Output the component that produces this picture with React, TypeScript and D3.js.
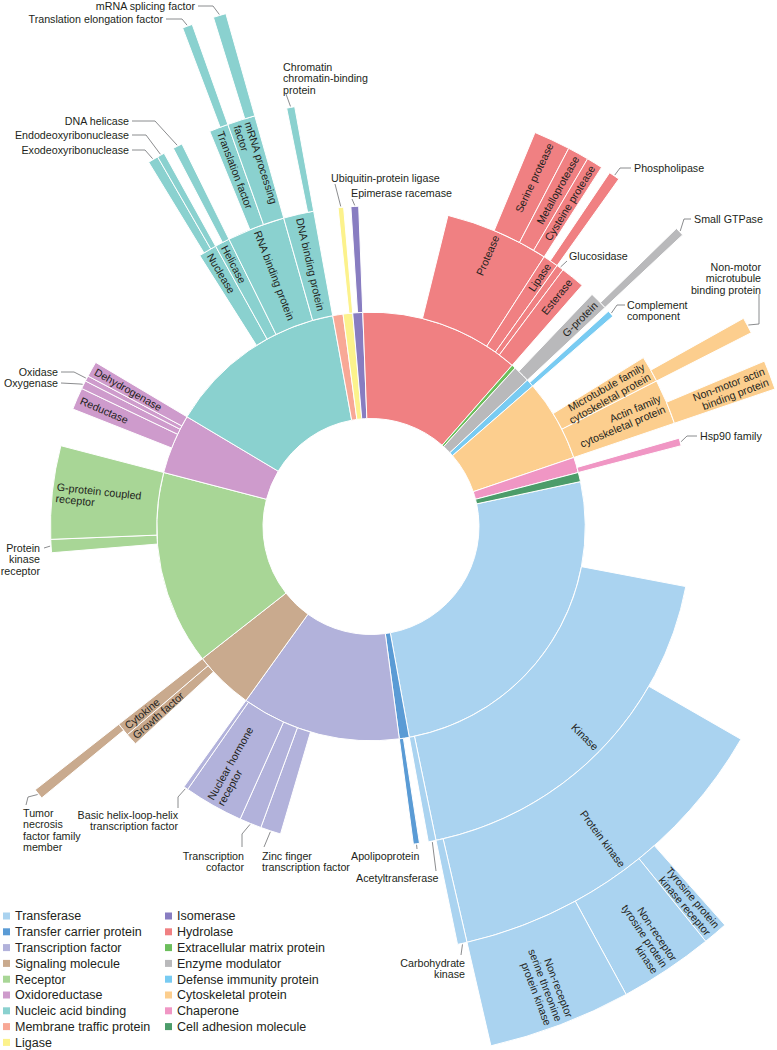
import React from "react";
import * as d3 from "d3";

// protein classes, clockwise from Transferase
const classNames = [
  "Transferase", "Transfer carrier protein", "Transcription factor", "Signaling molecule",
  "Receptor", "Oxidoreductase", "Nucleic acid binding", "Membrane traffic protein", "Ligase",
  "Isomerase", "Hydrolase", "Extracellular matrix protein", "Enzyme modulator",
  "Defense immunity protein", "Cytoskeletal protein", "Chaperone", "Cell adhesion molecule",
];
const classCounts = [918, 27, 433, 162, 527, 162, 489, 28, 26, 27, 434, 11, 46, 21, 222, 42, 25];
const classColors = [
  "#aad3f0", "#5a9bd5", "#b2b2db", "#c9aa8e", "#a8d696", "#ce9bcc", "#8ad1cf", "#f8a896", "#fcf28c",
  "#887dc1", "#f08082", "#6cbe5c", "#b9b9bb", "#78cbf2", "#fcce8e", "#f096c4", "#4c9c6a",
];

// second level
const level2Names = [
  "Kinase", "Acetyltransferase", "Apolipoprotein",
  "Zinc finger transcription factor", "Transcription cofactor", "Nuclear hormone receptor",
  "Basic helix-loop-helix transcription factor", "Growth factor", "Cytokine",
  "Protein kinase receptor", "G-protein coupled receptor",
  "Reductase", "Oxygenase", "Oxidase", "Dehydrogenase",
  "Nuclease", "Helicase", "RNA binding protein", "DNA binding protein",
  "Ubiquitin-protein ligase", "Epimerase racemase",
  "Protease", "Lipase", "Glucosidase", "Esterase", "G-protein", "Complement component",
  "Microtubule family cytoskeletal protein", "Actin family cytoskeletal protein", "Hsp90 family",
];
const level2Parents = [
  "Transferase", "Transferase", "Transfer carrier protein",
  "Transcription factor", "Transcription factor", "Transcription factor",
  "Transcription factor", "Signaling molecule", "Signaling molecule",
  "Receptor", "Receptor",
  "Oxidoreductase", "Oxidoreductase", "Oxidoreductase", "Oxidoreductase",
  "Nucleic acid binding", "Nucleic acid binding", "Nucleic acid binding", "Nucleic acid binding",
  "Ligase", "Isomerase",
  "Hydrolase", "Hydrolase", "Hydrolase", "Hydrolase", "Enzyme modulator", "Defense immunity protein",
  "Cytoskeletal protein", "Cytoskeletal protein", "Chaperone",
];
const level2Counts = [
  675, 14, 11,
  37, 40, 108, 8, 22, 24,
  24, 169,
  40, 15, 10, 28,
  33, 27, 105, 55,
  10, 14,
  188, 28, 13, 44, 33, 12,
  48, 82, 14,
];

// third level
const level3Names = [
  "Protein kinase", "Carbohydrate kinase", "Tumor necrosis factor family member",
  "Exodeoxyribonuclease", "Endodeoxyribonuclease", "DNA helicase",
  "Translation factor", "mRNA processing factor", "Chromatin chromatin-binding protein",
  "Serine protease", "Metalloprotease", "Cysteine protease", "Phospholipase", "Small GTPase",
  "Non-motor microtubule binding protein", "Non-motor actin binding protein",
];
const level3Parents = [
  "Kinase", "Kinase", "Cytokine",
  "Nuclease", "Nuclease", "Helicase",
  "RNA binding protein", "RNA binding protein", "DNA binding protein",
  "Protease", "Protease", "Protease", "Lipase", "G-protein",
  "Microtubule family cytoskeletal protein", "Actin family cytoskeletal protein",
];
const level3Counts = [471, 13, 14, 14, 10, 13, 26, 38, 11, 50, 29, 22, 15, 12, 22, 40];

// fourth level
const level4Names = [
  "Tyrosine protein kinase receptor", "Non-receptor tyrosine protein kinase",
  "Non-receptor serine threonine protein kinase",
  "Translation elongation factor", "mRNA splicing factor",
];
const level4Parents = [
  "Protein kinase", "Protein kinase", "Protein kinase",
  "Translation factor", "mRNA processing factor",
];
const level4Counts = [27, 103, 156, 11, 14];

// labels drawn inside their segment ("|" breaks a line)
const insideLabels: [string, string][] = [
  ["Kinase", "Kinase"],
  ["Protein kinase", "Protein kinase"],
  ["Tyrosine protein kinase receptor", "Tyrosine protein|kinase receptor"],
  ["Non-receptor tyrosine protein kinase", "Non-receptor|tyrosine protein|kinase"],
  ["Non-receptor serine threonine protein kinase", "Non-receptor|serine threonine|protein kinase"],
  ["Protease", "Protease"],
  ["Serine protease", "Serine protease"],
  ["Metalloprotease", "Metalloprotease"],
  ["Cysteine protease", "Cysteine protease"],
  ["Lipase", "Lipase"],
  ["Esterase", "Esterase"],
  ["G-protein", "G-protein"],
  ["Microtubule family cytoskeletal protein", "Microtubule family|cytoskeletal protein"],
  ["Actin family cytoskeletal protein", "Actin family|cytoskeletal protein"],
  ["Non-motor actin binding protein", "Non-motor actin|binding protein"],
  ["Nuclear hormone receptor", "Nuclear hormone|receptor"],
  ["Cytokine", "Cytokine"],
  ["Growth factor", "Growth factor"],
  ["G-protein coupled receptor", "G-protein coupled|receptor"],
  ["Reductase", "Reductase"],
  ["Dehydrogenase", "Dehydrogenase"],
  ["Nuclease", "Nuclease"],
  ["Helicase", "Helicase"],
  ["RNA binding protein", "RNA binding protein"],
  ["DNA binding protein", "DNA binding protein"],
  ["Translation factor", "Translation factor"],
  ["mRNA processing factor", "mRNA processing|factor"],
];

// labels outside with a leader line: text position + elbow points (layout)
const outsideLabels = [
  { name: "mRNA splicing factor", lines: ["mRNA splicing factor"], x: 195, y: 6, anchor: "end", elbows: [[198, 6], [213, 6]] },
  { name: "Translation elongation factor", lines: ["Translation elongation factor"], x: 163, y: 19, anchor: "end", elbows: [[166, 19], [182, 19]] },
  { name: "Chromatin chromatin-binding protein", lines: ["Chromatin", "chromatin-binding", "protein"], x: 283, y: 67, anchor: "start", elbows: [[286, 94]] },
  { name: "DNA helicase", lines: ["DNA helicase"], x: 129, y: 121, anchor: "end", elbows: [[132, 121], [155, 121]] },
  { name: "Endodeoxyribonuclease", lines: ["Endodeoxyribonuclease"], x: 129, y: 135, anchor: "end", elbows: [[132, 135], [146, 135]] },
  { name: "Exodeoxyribonuclease", lines: ["Exodeoxyribonuclease"], x: 129, y: 150, anchor: "end", elbows: [[132, 150], [145, 150]] },
  { name: "Ubiquitin-protein ligase", lines: ["Ubiquitin-protein ligase"], x: 331, y: 178, anchor: "start", elbows: [[335, 184]] },
  { name: "Epimerase racemase", lines: ["Epimerase racemase"], x: 351, y: 193, anchor: "start", elbows: [[352, 199]] },
  { name: "Phospholipase", lines: ["Phospholipase"], x: 634, y: 168, anchor: "start", elbows: [[631, 168], [620, 168]] },
  { name: "Glucosidase", lines: ["Glucosidase"], x: 569, y: 256, anchor: "start", elbows: [[567, 261]] },
  { name: "Small GTPase", lines: ["Small GTPase"], x: 694, y: 219, anchor: "start", elbows: [[691, 219], [684, 219]] },
  { name: "Complement component", lines: ["Complement", "component"], x: 627, y: 305, anchor: "start", elbows: [[625, 305], [617, 305]] },
  { name: "Non-motor microtubule binding protein", lines: ["Non-motor", "microtubule", "binding protein"], x: 761, y: 267, anchor: "end", elbows: [[759, 294], [759, 324]] },
  { name: "Hsp90 family", lines: ["Hsp90 family"], x: 700, y: 436, anchor: "start", elbows: [[697, 436], [687, 436]] },
  { name: "Oxidase", lines: ["Oxidase"], x: 58, y: 372, anchor: "end", elbows: [[61, 372], [74, 372]] },
  { name: "Oxygenase", lines: ["Oxygenase"], x: 58, y: 383, anchor: "end", elbows: [[61, 383], [80, 384]] },
  { name: "Protein kinase receptor", lines: ["Protein", "kinase", "receptor"], x: 40, y: 548, anchor: "end", elbows: [[44, 548]] },
  { name: "Tumor necrosis factor family member", lines: ["Tumor", "necrosis", "factor family", "member"], x: 23, y: 813, anchor: "start", elbows: [[26, 805], [28, 797]] },
  { name: "Basic helix-loop-helix transcription factor", lines: ["Basic helix-loop-helix", "transcription factor"], x: 178, y: 815, anchor: "end", elbows: [[178, 808], [178, 797]] },
  { name: "Transcription cofactor", lines: ["Transcription", "cofactor"], x: 244, y: 856, anchor: "end", elbows: [[242, 847], [242, 834]] },
  { name: "Zinc finger transcription factor", lines: ["Zinc finger", "transcription factor"], x: 262, y: 856, anchor: "start", elbows: [[264, 847]] },
  { name: "Apolipoprotein", lines: ["Apolipoprotein"], x: 351, y: 856, anchor: "start", elbows: [[417, 849]] },
  { name: "Acetyltransferase", lines: ["Acetyltransferase"], x: 356, y: 878, anchor: "start", elbows: [[436, 871]] },
  { name: "Carbohydrate kinase", lines: ["Carbohydrate", "kinase"], x: 465, y: 963, anchor: "end", elbows: [[461, 955]] },
];

type Node = {
  name: string; value: number; depth: number; cls: number;
  u0: number; u1: number; a0: number; a1: number; children: Node[];
};

const cx = 371;
const cy = 526.5;
const startDeg = 77.9;
const FONT = "'Liberation Sans', Arial, Helvetica, sans-serif";
const TEXT = "#231f20";

function buildTree() {
  const all: Node[] = [];
  const byName = new Map<string, Node>();
  const roots: Node[] = classNames.map((n, i) => {
    const node: Node = { name: n, value: classCounts[i], depth: 1, cls: i, u0: 0, u1: 0, a0: 0, a1: 0, children: [] };
    byName.set(n, node);
    all.push(node);
    return node;
  });
  const addLevel = (names: string[], parents: string[], counts: number[], depth: number) => {
    names.forEach((n, i) => {
      const p = byName.get(parents[i])!;
      const node: Node = { name: n, value: counts[i], depth, cls: p.cls, u0: 0, u1: 0, a0: 0, a1: 0, children: [] };
      p.children.push(node);
      byName.set(n, node);
      all.push(node);
    });
  };
  addLevel(level2Names, level2Parents, level2Counts, 2);
  addLevel(level3Names, level3Parents, level3Counts, 3);
  addLevel(level4Names, level4Parents, level4Counts, 4);

  // classes side by side, children packed against the clockwise end of their parent
  let cum = 0;
  roots.forEach((r) => { r.u0 = cum; cum += r.value; r.u1 = cum; });
  const place = (p: Node) => {
    let c = p.u1 - d3.sum(p.children, (d) => d.value);
    p.children.forEach((ch) => { ch.u0 = c; c += ch.value; ch.u1 = c; place(ch); });
  };
  roots.forEach(place);

  const start = (startDeg * Math.PI) / 180;
  const angle = d3.scaleLinear().domain([0, cum]).range([start, start + 2 * Math.PI]);
  all.forEach((n) => { n.a0 = angle(n.u0); n.a1 = angle(n.u1); });
  return { all, byName };
}

const rScale = d3.scaleLinear().domain([0, 4]).range([108, 533]);

const arcGen = d3.arc<Node>()
  .innerRadius((d) => rScale(d.depth - 1))
  .outerRadius((d) => rScale(d.depth))
  .startAngle((d) => d.a0)
  .endAngle((d) => d.a1);

function midDeg(n: Node) {
  const a = (((n.a0 + n.a1) / 2) * 180) / Math.PI;
  return ((a % 360) + 360) % 360;
}

function InsideLabel({ node, text }: { node: Node; text: string }) {
  const deg = midDeg(node);
  const right = deg < 180;
  const r = rScale(node.depth) - 4;
  const lines = text.split("|");
  const lh = 11.5;
  return (
    <g transform={`rotate(${deg - 90}) translate(${r},0)${right ? "" : " rotate(180)"}`}>
      <text textAnchor={right ? "end" : "start"} fontSize={10.7} fill={TEXT}>
        {lines.map((l, i) => (
          <tspan key={i} x={0} y={(i - (lines.length - 1) / 2) * lh} dy="0.35em">{l}</tspan>
        ))}
      </text>
    </g>
  );
}

export default function App() {
  const { all, byName } = buildTree();
  const polar = (a: number, r: number): [number, number] => [cx + r * Math.sin(a), cy - r * Math.cos(a)];

  const legendCol1 = classNames.slice(0, 9);
  const legendCol2 = classNames.slice(9);
  const legendY = d3.scaleLinear().domain([0, 1]).range([916, 931.8]);

  return (
    <svg width={777} height={1050} style={{ position: "absolute", left: 0, top: 0, fontFamily: FONT }}>
      <rect width={777} height={1050} fill="#ffffff" />
      <g transform={`translate(${cx},${cy})`}>
        {all.map((n) => (
          <path key={n.name} d={arcGen(n) || ""} fill={classColors[n.cls]} stroke="#ffffff" strokeWidth={1} />
        ))}
        {insideLabels.map(([name, text]) => (
          <InsideLabel key={name} node={byName.get(name)!} text={text} />
        ))}
      </g>

      {outsideLabels.map((lab) => {
        const n = byName.get(lab.name)!;
        const a = (n.a0 + n.a1) / 2;
        const pts = [...lab.elbows, polar(a, rScale(n.depth) + 1)];
        return (
          <g key={lab.name}>
            <polyline points={pts.map((p) => p.join(",")).join(" ")} fill="none" stroke="#6d6e71" strokeWidth={0.8} />
            <text textAnchor={lab.anchor as any} fontSize={10.7} fill={TEXT}>
              {lab.lines.map((l, i) => (
                <tspan key={i} x={lab.x} y={lab.y + i * 11.5} dy="0.35em">{l}</tspan>
              ))}
            </text>
          </g>
        );
      })}

      <g fontSize={12.5} fill={TEXT}>
        {legendCol1.map((name, i) => (
          <g key={name} transform={`translate(3,${legendY(i)})`}>
            <rect x={0} y={-3.5} width={7} height={7} fill={classColors[i]} />
            <text x={12} dy="0.35em">{name}</text>
          </g>
        ))}
        {legendCol2.map((name, i) => (
          <g key={name} transform={`translate(165,${legendY(i)})`}>
            <rect x={0} y={-3.5} width={7} height={7} fill={classColors[i + 9]} />
            <text x={12} dy="0.35em">{name}</text>
          </g>
        ))}
      </g>
    </svg>
  );
}
